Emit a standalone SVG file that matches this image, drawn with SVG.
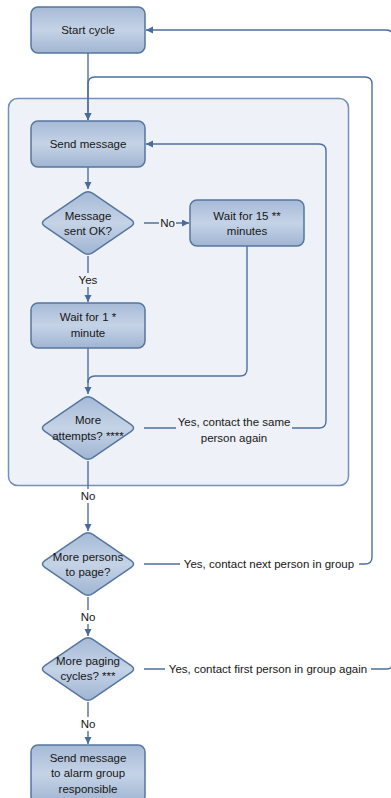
<svg xmlns="http://www.w3.org/2000/svg" width="391" height="798" viewBox="0 0 391 798">
  <defs>
    <linearGradient id="boxFill" x1="0" y1="0" x2="0" y2="1">
      <stop offset="0" stop-color="#a6bad7"/>
      <stop offset="0.5" stop-color="#c5d3e6"/>
      <stop offset="1" stop-color="#a0b5d3"/>
    </linearGradient>
    <marker id="arrow" markerUnits="userSpaceOnUse" markerWidth="8" markerHeight="8" refX="7" refY="3.5" orient="auto">
      <path d="M0,0 L7,3.5 L0,7 Z" fill="#4a6a9a"/>
    </marker>
    <path id="diamond" d="M-4.8,-29.7 Q0,-33 4.8,-29.7 L43.2,-3.3 Q48,0 43.2,3.3 L4.8,29.7 Q0,33 -4.8,29.7 L-43.2,3.3 Q-48,0 -43.2,-3.3 Z"/>
  </defs>
  <style>
    .box { fill: url(#boxFill); stroke: #55769f; stroke-width: 1.5; }
    .dia { fill: url(#boxFill); stroke: #55769f; stroke-width: 1.5; }
    .conn { fill: none; stroke: #4f6f9e; stroke-width: 1.4; }
    .arr { marker-end: url(#arrow); }
    text { font-family: "Liberation Sans", Arial, sans-serif; font-size: 11.5px; fill: #161616; text-anchor: middle; }
    .bgIn { fill: #eef2f8; }
    .bgOut { fill: #ffffff; }
  </style>

  <rect width="391" height="798" fill="#ffffff"/>

  <!-- retry container -->
  <g id="container">
    <rect x="8.5" y="98.5" width="340" height="387" rx="9" fill="#eef2f8" stroke="#7290ba" stroke-width="1.5"/>
  </g>

  <!-- connectors -->
  <g id="connectors">
    <path class="conn arr" d="M88,53 V120"/>
    <path class="conn arr" d="M88,167 V189"/>
    <path class="conn arr" d="M144,223 H189"/>
    <path class="conn arr" d="M88,256 V302"/>
    <path class="conn arr" d="M247,246 V369 Q247,376 240,376 H95 Q88,376 88,383 V394"/>
    <path class="conn" d="M88,348 V383"/>
    <path class="conn arr" d="M144,428 H319 Q326,428 326,421 V151 Q326,144 319,144 H146"/>
    <path class="conn arr" d="M88,461 V531"/>
    <path class="conn arr" d="M144,564 H365 Q372,564 372,557 V84 Q372,77 365,77 H95 Q88,77 88,84 V120"/>
    <path class="conn arr" d="M88,597 V636"/>
    <path class="conn arr" d="M144,669 H386 Q393,669 393,662 V37 Q393,30 386,30 H146"/>
    <path class="conn arr" d="M88,702 V744"/>
  </g>

  <!-- connector labels -->
  <g id="labels">
    <rect class="bgIn" x="159" y="216" width="17" height="14"/>
    <text x="167.5" y="227">No</text>
    <rect class="bgIn" x="77" y="273" width="22" height="14"/>
    <text x="88" y="284">Yes</text>
    <rect class="bgIn" x="176" y="415" width="116" height="31"/>
    <text x="234" y="426">Yes, contact the same</text>
    <text x="234" y="442">person again</text>
    <rect class="bgOut" x="78" y="489" width="20" height="14"/>
    <text x="88" y="500">No</text>
    <rect class="bgOut" x="180" y="557" width="179" height="14"/>
    <text x="269" y="568">Yes, contact next person in group</text>
    <rect class="bgOut" x="78" y="610" width="20" height="14"/>
    <text x="88" y="621">No</text>
    <rect class="bgOut" x="165" y="662" width="206" height="14"/>
    <text x="268" y="673">Yes, contact first person in group again</text>
    <rect class="bgOut" x="78" y="717" width="20" height="14"/>
    <text x="88" y="728">No</text>
  </g>

  <g id="start-cycle">
    <rect class="box" x="31" y="7" width="114" height="46" rx="7"/>
    <text x="88" y="34">Start cycle</text>
  </g>

  <g id="send-message">
    <rect class="box" x="31" y="121" width="114" height="46" rx="7"/>
    <text x="88" y="148">Send message</text>
  </g>

  <g id="message-sent-ok">
    <use href="#diamond" class="dia" transform="translate(88,223)"/>
    <text x="88" y="220">Message</text>
    <text x="88" y="235">sent OK?</text>
  </g>

  <g id="wait-15">
    <rect class="box" x="190" y="200" width="114" height="46" rx="7"/>
    <text x="247" y="220">Wait for 15 **</text>
    <text x="247" y="235">minutes</text>
  </g>

  <g id="wait-1">
    <rect class="box" x="31" y="303" width="114" height="45" rx="7"/>
    <text x="88" y="321">Wait for 1 *</text>
    <text x="88" y="337">minute</text>
  </g>

  <g id="more-attempts">
    <use href="#diamond" class="dia" transform="translate(88,428)"/>
    <text x="88" y="424">More</text>
    <text x="88" y="440">attempts? ****</text>
  </g>

  <g id="more-persons">
    <use href="#diamond" class="dia" transform="translate(88,564)"/>
    <text x="88" y="561">More persons</text>
    <text x="88" y="576">to page?</text>
  </g>

  <g id="more-cycles">
    <use href="#diamond" class="dia" transform="translate(88,669)"/>
    <text x="88" y="665">More paging</text>
    <text x="88" y="680">cycles? ***</text>
  </g>

  <g id="alarm-group">
    <rect class="box" x="31" y="745" width="114" height="58" rx="7"/>
    <text x="88" y="762">Send message</text>
    <text x="88" y="777">to alarm group</text>
    <text x="88" y="793">responsible</text>
  </g>
</svg>
